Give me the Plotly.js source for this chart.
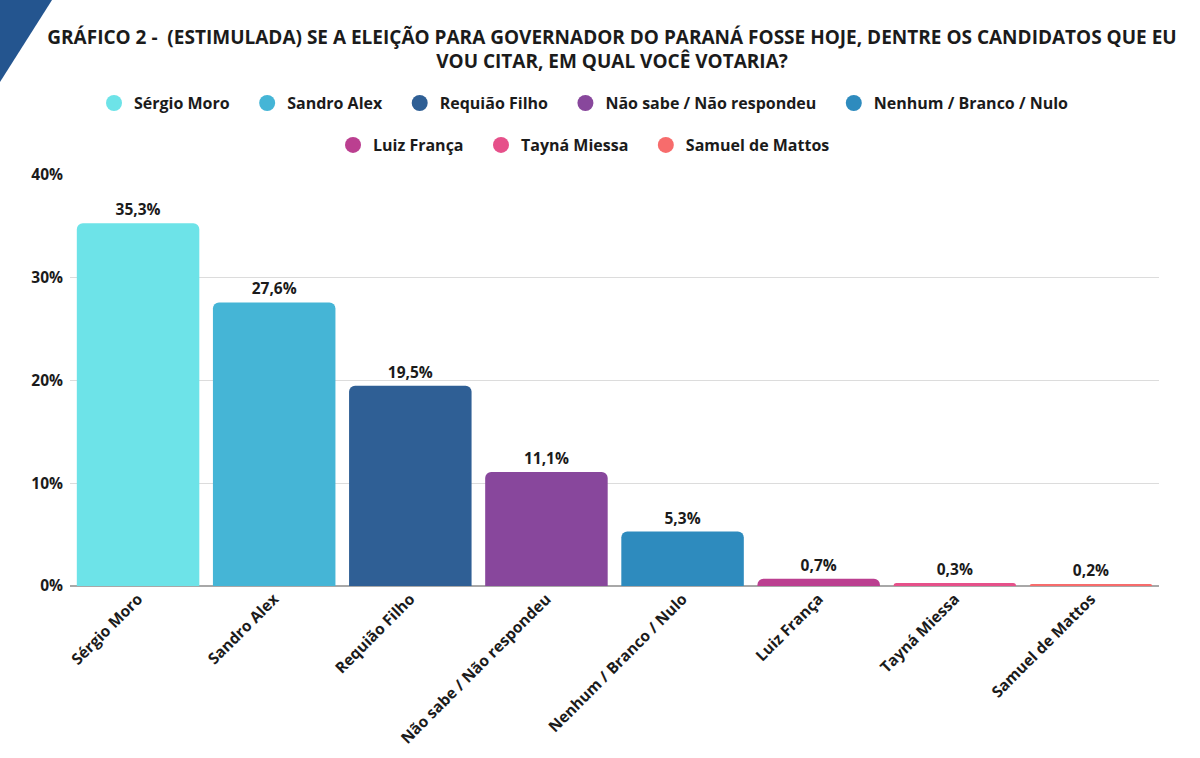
<!DOCTYPE html>
<html>
<head>
<meta charset="utf-8">
<script src="https://cdn.plot.ly/plotly-3.0.1.min.js"></script>
<style>
  html, body { margin: 0; padding: 0; background: #fff; }
  #chart { width: 1200px; height: 758px; }
</style>
</head>
<body>
<div id="chart"></div>
<script>
// pesquisa estimulada - governador PR
const candidatos = ['Sérgio Moro', 'Sandro Alex', 'Requião Filho', 'Não sabe / Não respondeu',
    'Nenhum / Branco / Nulo', 'Luiz França', 'Tayná Miessa', 'Samuel de Mattos'];
const percentuais = [35.3, 27.6, 19.5, 11.1, 5.3, 0.7, 0.3, 0.2];
const cores = ['#6DE3E8', '#45B5D6', '#2F5F95', '#88479C', '#2E8BBE', '#BB3F90', '#E6508A', '#F76C6C'];

const fonte = 'Open Sans, Noto Sans, sans-serif';
const escuro = '#1b1b1b';

const data = [
    {
        x: candidatos,
        y: percentuais,
        type: 'bar',
        marker: { color: cores },
        text: percentuais.map(v => v.toFixed(1).replace('.', ',') + '%'),
        textposition: 'outside',
        textfont: { family: fonte, size: 15.5, color: escuro, weight: 'bold' },
        cliponaxis: false,
        showlegend: false,
        hoverinfo: 'x+y'
    }
];

// legend entries as circles (two rows, like the original)
// a few non-breaking spaces widen the gap between entries
const espaco = '\u00A0\u00A0\u00A0';
candidatos.forEach((nome, i) => {
    const ultimo = (i === 4 || i === candidatos.length - 1);
    data.push({
        x: [null],
        y: [null],
        type: 'scatter',
        mode: 'markers',
        name: ultimo ? nome : nome + espaco,
        marker: { color: cores[i], size: 16, symbol: 'circle' },
        legend: i < 5 ? 'legend' : 'legend2',
        hoverinfo: 'skip'
    });
});

const legendFont = { family: fonte, size: 16, color: escuro, weight: 'bold' };

const layout = {
    width: 1200,
    height: 758,
    margin: { l: 70, r: 41, t: 175, b: 172 },
    paper_bgcolor: 'white',
    plot_bgcolor: 'white',
    font: { family: fonte, color: escuro },
    title: {
        text: 'GRÁFICO 2 -  (ESTIMULADA) SE A ELEIÇÃO PARA GOVERNADOR DO PARANÁ FOSSE HOJE, DENTRE OS CANDIDATOS QUE EU<br>VOU CITAR, EM QUAL VOCÊ VOTARIA?',
        x: 0.51,
        xanchor: 'center',
        y: 0.9425,
        yanchor: 'top',
        yref: 'container',
        font: { family: fonte, size: 19, color: escuro, weight: 'bold' }
    },
    bargap: 0.1,
    barcornerradius: 6,
    xaxis: {
        type: 'category',
        tickangle: -45,
        tickfont: { family: fonte, size: 15.5, color: escuro, weight: 'bold' },
        showgrid: false,
        showline: false,
        ticks: '',
        fixedrange: true
    },
    yaxis: {
        range: [0, 40],
        dtick: 10,
        ticksuffix: '%',
        tickfont: { family: fonte, size: 15.5, color: escuro, weight: 'bold' },
        gridcolor: '#dcdcdc',
        gridwidth: 1,
        zeroline: true,
        zerolinecolor: '#a8a8a8',
        zerolinewidth: 1.5,
        ticklabelstandoff: 6,
        fixedrange: true
    },
    legend: {
        orientation: 'h',
        x: 0.472,
        xanchor: 'center',
        y: 1.175,
        yanchor: 'middle',
        font: legendFont,
        itemclick: false
    },
    legend2: {
        orientation: 'h',
        x: 0.472,
        xanchor: 'center',
        y: 1.073,
        yanchor: 'middle',
        font: legendFont,
        itemclick: false
    },
    shapes: [
        {
            type: 'path',
            xref: 'paper',
            yref: 'paper',
            path: 'M -0.0643 1.4258 L -0.0165 1.4258 L -0.0643 1.2263 Z',
            fillcolor: '#24558f',
            line: { width: 0 },
            layer: 'above'
        }
    ]
};

Plotly.newPlot('chart', data, layout, { displayModeBar: false, staticPlot: true });
</script>
</body>
</html>
